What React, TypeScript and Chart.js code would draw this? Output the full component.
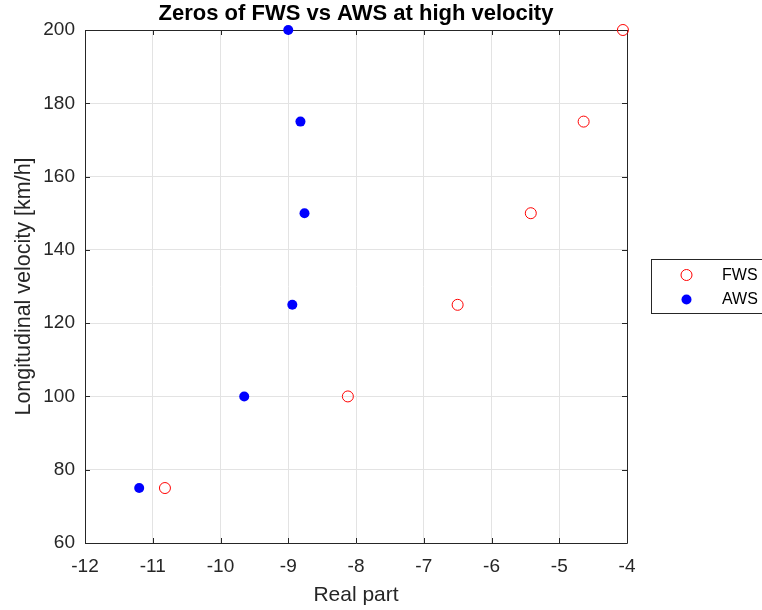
import React, { useEffect, useRef } from "react";
import { Chart, registerables } from "chart.js";

Chart.register(...registerables);

const velocities = [75, 100, 125, 150, 175, 200];
const fwsReal = [-10.82, -8.12, -6.5, -5.42, -4.64, -4.06];
const awsReal = [-11.2, -9.65, -8.94, -8.76, -8.82, -9.0];
const xTicks = [-12, -11, -10, -9, -8, -7, -6, -5, -4];
const yTicks = [60, 80, 100, 120, 140, 160, 180, 200];
const titleText = "Zeros of FWS vs AWS at high velocity";
const seriesNames = ["FWS", "AWS"];

const FONT = "'Liberation Sans', Arial, sans-serif";

const framePlugin = {
  id: "frame",
  beforeDatasetsDraw(chart: any) {
    const { ctx, chartArea: a } = chart;
    const xs = chart.scales.x;
    const ys = chart.scales.y;
    ctx.save();
    ctx.strokeStyle = "#262626";
    ctx.lineWidth = 1;
    ctx.beginPath();
    ctx.rect(Math.round(a.left) + 0.5, Math.round(a.top) + 0.5, Math.round(a.right - a.left), Math.round(a.bottom - a.top));
    ctx.stroke();
    ctx.beginPath();
    xTicks.forEach((v) => {
      const px = Math.round(xs.getPixelForValue(v)) + 0.5;
      ctx.moveTo(px, a.bottom);
      ctx.lineTo(px, a.bottom - 5);
      ctx.moveTo(px, a.top);
      ctx.lineTo(px, a.top + 5);
    });
    yTicks.forEach((v) => {
      const py = Math.round(ys.getPixelForValue(v)) + 0.5;
      ctx.moveTo(a.left, py);
      ctx.lineTo(a.left + 5, py);
      ctx.moveTo(a.right, py);
      ctx.lineTo(a.right - 5, py);
    });
    ctx.stroke();
    ctx.restore();
  },
  afterDraw(chart: any) {
    const { ctx, chartArea: a } = chart;
    ctx.save();
    ctx.fillStyle = "#000";
    ctx.font = `bold 22px ${FONT}`;
    ctx.textAlign = "center";
    ctx.textBaseline = "middle";
    ctx.fillText(titleText, (a.left + a.right) / 2, 14);
    const lx = 651, ly = 259, lw = 115, lh = 54;
    ctx.fillStyle = "#fff";
    ctx.fillRect(lx, ly, lw, lh);
    ctx.strokeStyle = "#262626";
    ctx.lineWidth = 1;
    ctx.strokeRect(lx + 0.5, ly + 0.5, lw, lh);
    ctx.font = `16px ${FONT}`;
    ctx.textAlign = "left";
    ctx.beginPath();
    ctx.arc(686.5, 275, 5.5, 0, Math.PI * 2);
    ctx.strokeStyle = "#ff0000";
    ctx.stroke();
    ctx.fillStyle = "#000";
    ctx.fillText(seriesNames[0], 722, 276);
    ctx.beginPath();
    ctx.arc(686.5, 299.5, 5, 0, Math.PI * 2);
    ctx.fillStyle = "#0000ff";
    ctx.fill();
    ctx.fillStyle = "#000";
    ctx.fillText(seriesNames[1], 722, 300);
    ctx.restore();
  },
};

export default function App() {
  const ref = useRef<HTMLCanvasElement>(null);
  useEffect(() => {
    if (!ref.current) return;
    const chart = new Chart(ref.current, {
      type: "scatter",
      data: {
        datasets: [
          {
            label: seriesNames[0],
            data: velocities.map((v, i) => ({ x: fwsReal[i], y: v })),
            pointRadius: 5.5,
            pointBorderColor: "#ff0000",
            pointBackgroundColor: "rgba(0,0,0,0)",
            pointBorderWidth: 1,
            clip: false,
          },
          {
            label: seriesNames[1],
            data: velocities.map((v, i) => ({ x: awsReal[i], y: v })),
            pointRadius: 5,
            pointBorderColor: "#0000ff",
            pointBackgroundColor: "#0000ff",
            pointBorderWidth: 0,
            clip: false,
          },
        ],
      },
      options: {
        animation: false,
        responsive: false,
        layout: { padding: { top: 30, right: 135, left: 0, bottom: 0 } },
        plugins: { legend: { display: false }, tooltip: { enabled: false } },
        scales: {
          x: {
            type: "linear",
            min: -12,
            max: -4,
            afterBuildTicks: (s: any) => {
              s.ticks = xTicks.map((v) => ({ value: v }));
            },
            afterFit: (s: any) => {
              s.height = 67;
            },
            grid: { color: "#e3e3e3", tickLength: 0, drawTicks: false },
            border: { display: false },
            ticks: { color: "#262626", font: { family: FONT, size: 19 }, padding: 12, maxRotation: 0 },
            title: { display: true, text: "Real part", color: "#262626", font: { family: FONT, size: 21 }, padding: { top: 0, bottom: 2 } },
          },
          y: {
            type: "linear",
            min: 60,
            max: 200,
            afterBuildTicks: (s: any) => {
              s.ticks = yTicks.map((v) => ({ value: v }));
            },
            afterFit: (s: any) => {
              s.width = 85;
            },
            grid: { color: "#e3e3e3", tickLength: 0, drawTicks: false },
            border: { display: false },
            ticks: { color: "#262626", font: { family: FONT, size: 19 }, padding: 10 },
            title: { display: true, text: "Longitudinal velocity [km/h]", color: "#262626", font: { family: FONT, size: 21.5 }, padding: { top: 11, bottom: 0 } },
          },
        },
      },
      plugins: [framePlugin],
    } as any);
    return () => chart.destroy();
  }, []);
  return (
    <div style={{ position: "fixed", left: 0, top: 0, width: 762, height: 610, background: "#fff" }}>
      <canvas ref={ref} width={762} height={610} style={{ display: "block" }} />
    </div>
  );
}
